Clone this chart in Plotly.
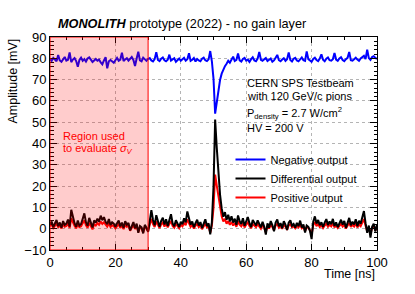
import plotly.graph_objects as go

# sampling grid: 0.5 ns steps from 0 to 100 ns
time_ns = [i * 0.5 for i in range(201)]

negative_mv = [
    79.5, 78.8, 80.2, 79.1, 78.6, 81.5, 79.0, 78.4, 79.8, 80.6, 78.9, 79.3, 82.8, 78.2, 79.4, 80.1, 78.7, 76.0, 79.2, 80.3, 78.8,
    79.6, 78.5, 79.9, 80.4, 79.1, 78.3, 79.0, 79.7, 78.9, 79.4, 78.1, 77.2, 79.0, 80.5, 75.3, 78.6, 79.2, 78.4, 77.9, 79.1,
    80.2, 78.8, 79.4, 82.6, 78.7, 79.5, 80.1, 78.9, 79.8, 80.6, 79.2, 76.4, 79.9, 83.1, 79.0, 78.6, 80.3, 79.4, 78.8, 79.7,
    80.1, 79.0, 78.5, 79.6, 82.9, 79.2, 78.7, 79.8, 80.4, 79.1, 78.6, 79.3, 81.7, 78.9, 79.5, 80.0, 78.4, 79.2, 79.9, 78.8,
    79.4, 80.2, 78.9, 79.6, 82.4, 78.8, 79.3, 80.1, 78.5, 79.7, 79.0, 78.6, 79.8, 80.3, 79.1, 78.7, 79.5, 83.4,
    78.6, 70.5, 54.0, 59.5, 65.5, 69.8, 72.8, 74.9, 76.3, 77.4, 78.8, 77.9,
    79.6, 80.8, 78.7, 79.2, 82.3, 79.0, 78.5, 79.7, 80.2, 78.9, 79.4, 78.3, 79.6, 80.5, 79.0, 78.6, 79.9, 83.0, 79.3, 78.8,
    79.5, 80.1, 78.7, 79.2, 79.9, 78.4, 79.0, 80.3, 81.6, 79.1, 78.6, 79.4, 80.0, 78.8, 79.6, 82.7, 79.2, 78.5, 79.8, 80.2,
    79.0, 78.6, 79.5, 80.4, 79.1, 78.8, 83.2, 79.6, 79.0, 78.4, 79.7, 80.3, 79.2, 78.7, 79.9, 81.9, 79.3, 78.6, 79.8, 80.4,
    79.1, 78.9, 79.6, 82.5, 79.4, 78.8, 79.9, 80.5, 79.2, 78.7, 79.6, 80.2, 83.0, 79.1, 78.9, 79.7, 80.3, 79.4, 78.8, 79.9,
    80.4, 81.2, 79.6, 84.0, 80.1, 79.3, 80.6, 81.0, 80.2, 79.7,
]

differential_mv = [
    2.1, 3.4, 0.8, 2.7, 4.1, 1.2, 2.9, 0.5, 3.6, 1.8, 2.4, 4.3, 1.0, 8.9, 5.2, 2.6, 0.9, 3.8, 1.5, 2.2, 4.6,
    7.2, 3.0, 1.4, 5.1, 2.3, 0.6, 3.9, 2.8, 4.7, 3.3, 6.1, 4.0, 5.4, 3.2, 2.1, 4.5, 1.7, 3.0, 2.4, 0.9,
    2.6, 3.8, 1.1, 2.9, 0.4, 3.5, 1.9, 2.7, -0.8, 1.6, 3.1, 0.2, 2.4, -1.9, 1.3, 0.7, -2.2, 1.8, 0.5, -1.5,
    3.2, 8.7, 4.1, 1.6, 6.3, 2.8, 0.9, 3.7, 5.2, 2.0, 4.4, 1.3, 3.6, 6.8, 2.5, 1.1, 4.0, 2.7, 0.8, 3.3,
    2.1, 4.9, 3.0, 8.1, 4.6, 1.9, 3.4, 0.7, 2.6, 4.2, 1.5, 3.1, 0.3, 2.8, 4.4, 1.2, 2.5, -2.6,
    3.0, 19.5, 51.2, 38.0, 25.5, 16.0, 9.5, 5.6, 7.8, 4.2, 6.5, 3.4,
    5.8, 2.9, 4.7, 1.8, 6.2, 3.5, 2.2, 4.9, 1.4, 3.7, 5.5, 2.6, 0.8, 4.1, 3.0, 1.5, 3.9, 2.4, 0.6, 3.2,
    1.0, -2.8, 2.5, 0.4, 3.6, 1.7, -1.2, 2.9, 4.3, 1.1, 2.6, 0.2, 3.5, 1.9, -0.6, 2.8, 4.0, 1.4, 2.2, 0.5,
    2.7, 1.2, 3.8, 0.6, 2.0, -1.8, 1.5, 0.9, -1.0, -4.9, 3.3, 5.8, 2.4, 4.1, 1.6, 3.0, 0.8, 2.9, 4.5, 1.7,
    3.4, 2.1, 4.6, 1.3, 3.0, 0.7, 2.5, 4.2, 1.9, 3.6, 0.4, 2.8, 5.1, 1.6, 3.3, 2.0, 4.4, 1.2, 3.7, 2.3,
    4.8, 8.3, 2.6, -1.9, 1.5, -4.2, 0.9, 2.4, -1.3, 1.8,
]

positive_mv = [
    1.2, 2.0, 0.3, 1.5, 2.4, 0.6, 1.7, 0.1, 2.1, 0.9, 1.3, 2.5, 0.4, 4.8, 2.9, 1.4, 0.2, 2.2, 0.7, 1.1, 2.6,
    3.9, 1.6, 0.5, 2.8, 1.2, -0.3, 2.1, 1.5, 2.6, 1.8, 3.4, 2.2, 3.0, 1.7, 1.0, 2.5, 0.8, 1.6, 1.2, 0.2,
    1.4, 2.1, 0.4, 1.6, -0.2, 1.9, 0.9, 1.5, -0.9, 0.8, 1.7, -0.1, 1.3, -1.6, 0.6, 0.2, -1.8, 1.0, 0.1, -1.2,
    1.8, 4.6, 2.2, 0.8, 3.4, 1.5, 0.3, 2.0, 2.9, 1.0, 2.4, 0.6, 1.9, 3.7, 1.3, 0.5, 2.2, 1.4, 0.2, 1.8,
    1.1, 2.7, 1.6, 4.4, 2.5, 0.9, 1.8, 0.1, 1.4, 2.3, 0.7, 1.7, -0.2, 1.5, 2.4, 0.6, 1.3, -1.9,
    1.6, 9.8, 25.4, 20.2, 14.6, 9.3, 5.8, 3.4, 4.6, 2.3, 3.6, 1.8,
    3.2, 1.5, 2.6, 0.9, 3.4, 1.9, 1.1, 2.7, 0.6, 2.0, 3.0, 1.3, 0.2, 2.2, 1.6, 0.7, 2.1, 1.2, 0.0, 1.7,
    0.4, -1.7, 1.3, 0.1, 1.9, 0.8, -0.8, 1.5, 2.3, 0.5, 1.4, -0.1, 1.9, 1.0, -0.5, 1.5, 2.2, 0.7, 1.1, 0.2,
    1.4, 0.6, 2.0, 0.2, 1.0, -1.2, 0.8, 0.4, -0.7, -2.9, 1.7, 3.1, 1.2, 2.2, 0.8, 1.6, 0.3, 1.5, 2.4, 0.9,
    1.8, 1.1, 2.5, 0.6, 1.6, 0.3, 1.3, 2.3, 1.0, 1.9, 0.1, 1.5, 2.8, 0.8, 1.8, 1.0, 2.4, 0.6, 2.0, 1.2,
    2.6, 4.5, 1.4, -1.2, 0.8, -2.6, 0.4, 1.3, -0.9, 1.0,
]

region_ns = [0, 30]
x_range = [0, 100]
y_range = [-10, 90]

FONT = "Liberation Sans, Arial, sans-serif"

fig = go.Figure()
fig.add_trace(go.Scatter(x=time_ns, y=positive_mv, mode="lines", name="Positive output",
                         line=dict(color="#ff0000", width=2), legendrank=3, legendgroup="p"))
fig.add_trace(go.Scatter(x=time_ns, y=differential_mv, mode="lines", name="Differential output",
                         line=dict(color="#000000", width=2), legendrank=2, legendgroup="d"))
fig.add_trace(go.Scatter(x=time_ns, y=negative_mv, mode="lines", name="Negative output",
                         line=dict(color="#0000ff", width=2), legendrank=1, legendgroup="n"))

fig.add_shape(type="rect", xref="x", yref="y", x0=region_ns[0], x1=region_ns[1],
              y0=y_range[0], y1=y_range[1], fillcolor="rgba(255,0,0,0.2)",
              line=dict(color="#ff0000", width=1), layer="above")

axis_common = dict(showline=True, linecolor="black", linewidth=1, mirror="allticks",
                   ticks="inside", tickcolor="black", showgrid=True, gridcolor="#b4b4b4",
                   griddash="dot", gridwidth=1, zeroline=False,
                   tickfont=dict(family=FONT, size=13, color="black"))

fig.update_xaxes(range=x_range, dtick=20, ticklen=6,
                 minor=dict(dtick=5, ticks="inside", ticklen=3, tickcolor="black", showgrid=False),
                 **axis_common)
fig.update_yaxes(range=y_range, dtick=10, ticklen=7,
                 minor=dict(dtick=2, ticks="inside", ticklen=3.5, tickcolor="black", showgrid=False),
                 **axis_common)

fig.update_layout(
    width=415, height=294,
    margin=dict(l=50, r=38, t=37, b=44),
    paper_bgcolor="white", plot_bgcolor="white",
    font=dict(family=FONT, color="black"),
    title=dict(text="<b><i>MONOLITH</i></b> prototype (2022) - no gain layer",
               x=58 / 415, xanchor="left", xref="container",
               y=1 - 24 / 294, yanchor="middle", yref="container",
               font=dict(family=FONT, size=12.7, color="black")),
    legend=dict(x=(230.5 - 50) / 327, y=(250 - 145) / 213, xanchor="left", yanchor="top",
                bgcolor="rgba(0,0,0,0)",
                font=dict(family=FONT, size=11, color="black"), tracegroupgap=0),
    showlegend=True,
)

TX = (245 - 50) / 327
annos = [
    dict(text="Amplitude [mV]", x=0, xshift=-38, y=1, xref="paper", yref="paper", xanchor="center",
         yanchor="top", textangle=-90, font=dict(size=12.5)),
    dict(text="Time [ns]", x=1, y=-0.07, xref="paper", yref="paper", xanchor="right", yanchor="top",
         font=dict(size=12.5)),
    dict(text="CERN SPS Testbeam", x=TX, y=(250 - 83) / 213, xref="paper", yref="paper",
         xanchor="left", yanchor="middle", font=dict(size=11)),
    dict(text="with 120 GeV/c pions", x=TX, y=(250 - 96) / 213, xref="paper", yref="paper",
         xanchor="left", yanchor="middle", font=dict(size=11)),
    dict(text="P<sub>density</sub> = 2.7 W/cm<sup>2</sup>", x=TX, y=(250 - 113) / 213,
         xref="paper", yref="paper", xanchor="left", yanchor="middle", font=dict(size=11)),
    dict(text="HV = 200 V", x=TX, y=(250 - 128) / 213, xref="paper", yref="paper",
         xanchor="left", yanchor="middle", font=dict(size=11)),
    dict(text="Region used", x=(61 - 50) / 327, y=(250 - 136) / 213, xref="paper", yref="paper",
         xanchor="left", yanchor="middle", font=dict(size=11, color="#ff0000")),
    dict(text="to evaluate <i>σ<sub>V</sub></i>", x=(61 - 50) / 327, y=(250 - 149) / 213, xref="paper",
         yref="paper", xanchor="left", yanchor="middle", font=dict(size=11, color="#ff0000")),
]
for a in annos:
    a.setdefault("showarrow", False)
    a["font"].setdefault("family", FONT)
    a["font"].setdefault("color", "black")
    fig.add_annotation(**a)

fig.write_html("out.html", config={"displayModeBar": False},
               post_script="document.body.style.margin='0';document.body.style.padding='0';")
